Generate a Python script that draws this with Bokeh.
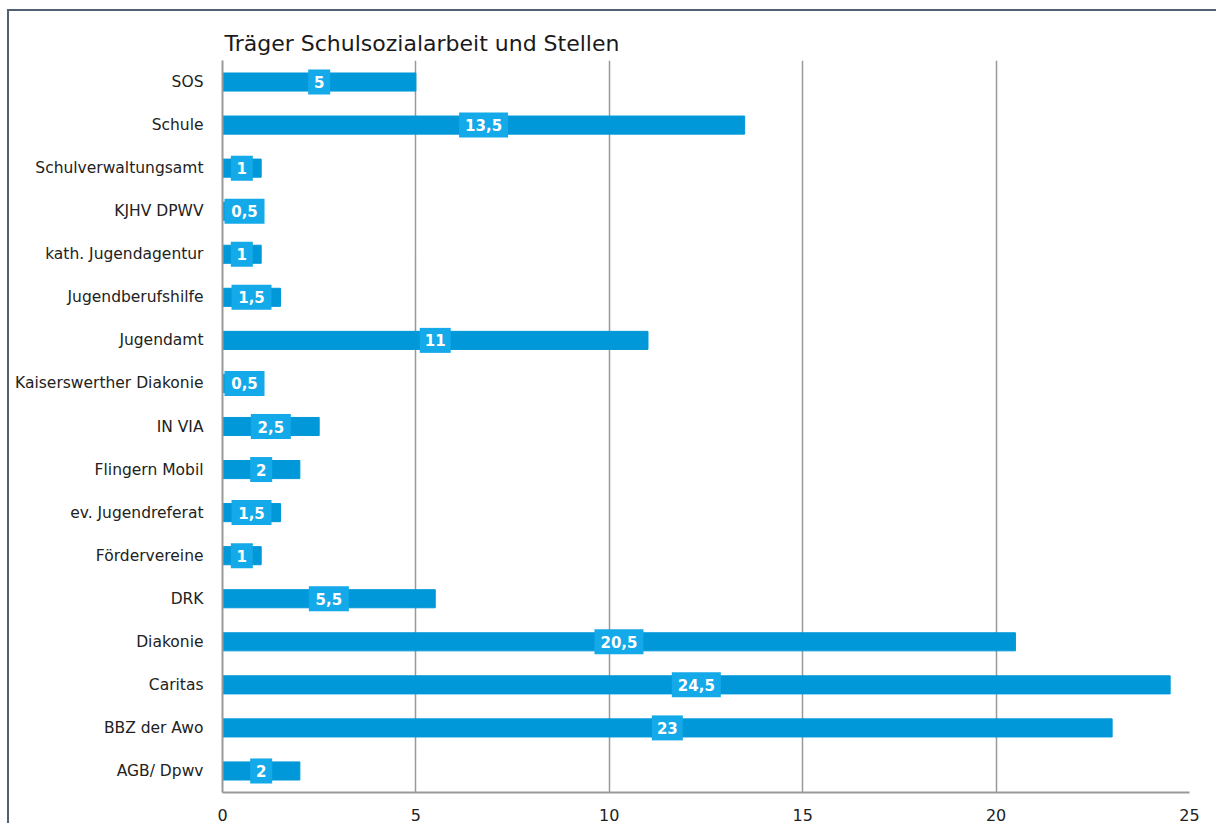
from bokeh.plotting import figure
from bokeh.models import ColumnDataSource, FactorRange, Range1d, Title, FixedTicker
from bokeh.embed import file_html
from bokeh.resources import INLINE

categories = ["SOS", "Schule", "Schulverwaltungsamt", "KJHV DPWV", "kath. Jugendagentur",
              "Jugendberufshilfe", "Jugendamt", "Kaiserswerther Diakonie", "IN VIA",
              "Flingern Mobil", "ev. Jugendreferat", "Fördervereine", "DRK", "Diakonie",
              "Caritas", "BBZ der Awo", "AGB/ Dpwv"]
values = [5, 13.5, 1, 0.5, 1, 1.5, 11, 0.5, 2.5, 2, 1.5, 1, 5.5, 20.5, 24.5, 23, 2]
x_ticks = [0, 5, 10, 15, 20, 25]
title_text = "Träger Schulsozialarbeit und Stellen"

FONT = "DejaVu Sans"
BAR = "#0098d8"
BOX = "#14a9e8"

W, H = 1209, 814
left_px, right_px, top_px, bottom_px = 213, 29, 49, 33
frame_w = W - left_px - right_px
px_per_unit = frame_w / 25.0

labels = [f"{v:g}".replace(".", ",") for v in values]
box_w = [9 * len(t) + 13 for t in labels]
label_x = [max(v / 2, (bw / 2 + 2) / px_per_unit) for v, bw in zip(values, box_w)]

src = ColumnDataSource(dict(cat=categories, val=values, lab=labels, bw=box_w, lx=label_x))

p = figure(width=W, height=H, y_range=FactorRange(*reversed(categories), range_padding=0),
           x_range=Range1d(0, 25), output_backend="svg", toolbar_location=None,
           min_border_left=left_px, min_border_right=right_px,
           min_border_top=top_px, min_border_bottom=bottom_px)
p.margin = (9, 0, 0, 7)
p.styles = {"border-top": "2px solid #4f6172", "border-left": "2px solid #4f6172"}

p.hbar(y="cat", right="val", left=0, height=0.42, color=BAR, source=src)
p.rect(x="lx", y="cat", width="bw", height=25, width_units="screen", height_units="screen",
       fill_color=BOX, line_color=None, source=src)
p.text(x="lx", y="cat", text="lab", text_color="white", text_font_style="bold",
       text_font_size="15px", text_align="center", text_baseline="middle",
       text_font={"value": FONT}, source=src)

p.title = Title(text=title_text, text_font=FONT, text_font_size="22px",
                text_font_style="normal", text_color="#1a1a1a", align="left", offset=2,
                standoff=10)

p.outline_line_color = None
p.ygrid.grid_line_color = None
p.xgrid.grid_line_color = "#999999"
p.xgrid.grid_line_width = 1.5
p.xgrid.ticker = FixedTicker(ticks=x_ticks)

p.xaxis.ticker = FixedTicker(ticks=x_ticks)
p.xaxis.axis_line_color = "#999999"
p.xaxis.axis_line_width = 2
p.xaxis.major_tick_line_color = None
p.xaxis.minor_tick_line_color = None
p.xaxis.major_label_text_font = FONT
p.xaxis.major_label_text_font_size = "16px"
p.xaxis.major_label_text_color = "#222222"
p.xaxis.major_label_standoff = 10

p.yaxis.axis_line_color = "#999999"
p.yaxis.axis_line_width = 2
p.yaxis.major_tick_line_color = None
p.yaxis.minor_tick_line_color = None
p.yaxis.major_label_text_font = FONT
p.yaxis.major_label_text_font_size = "15.5px"
p.yaxis.major_label_text_color = "#222222"
p.yaxis.major_label_standoff = 13

open("out.html", "w").write(file_html(p, INLINE))
